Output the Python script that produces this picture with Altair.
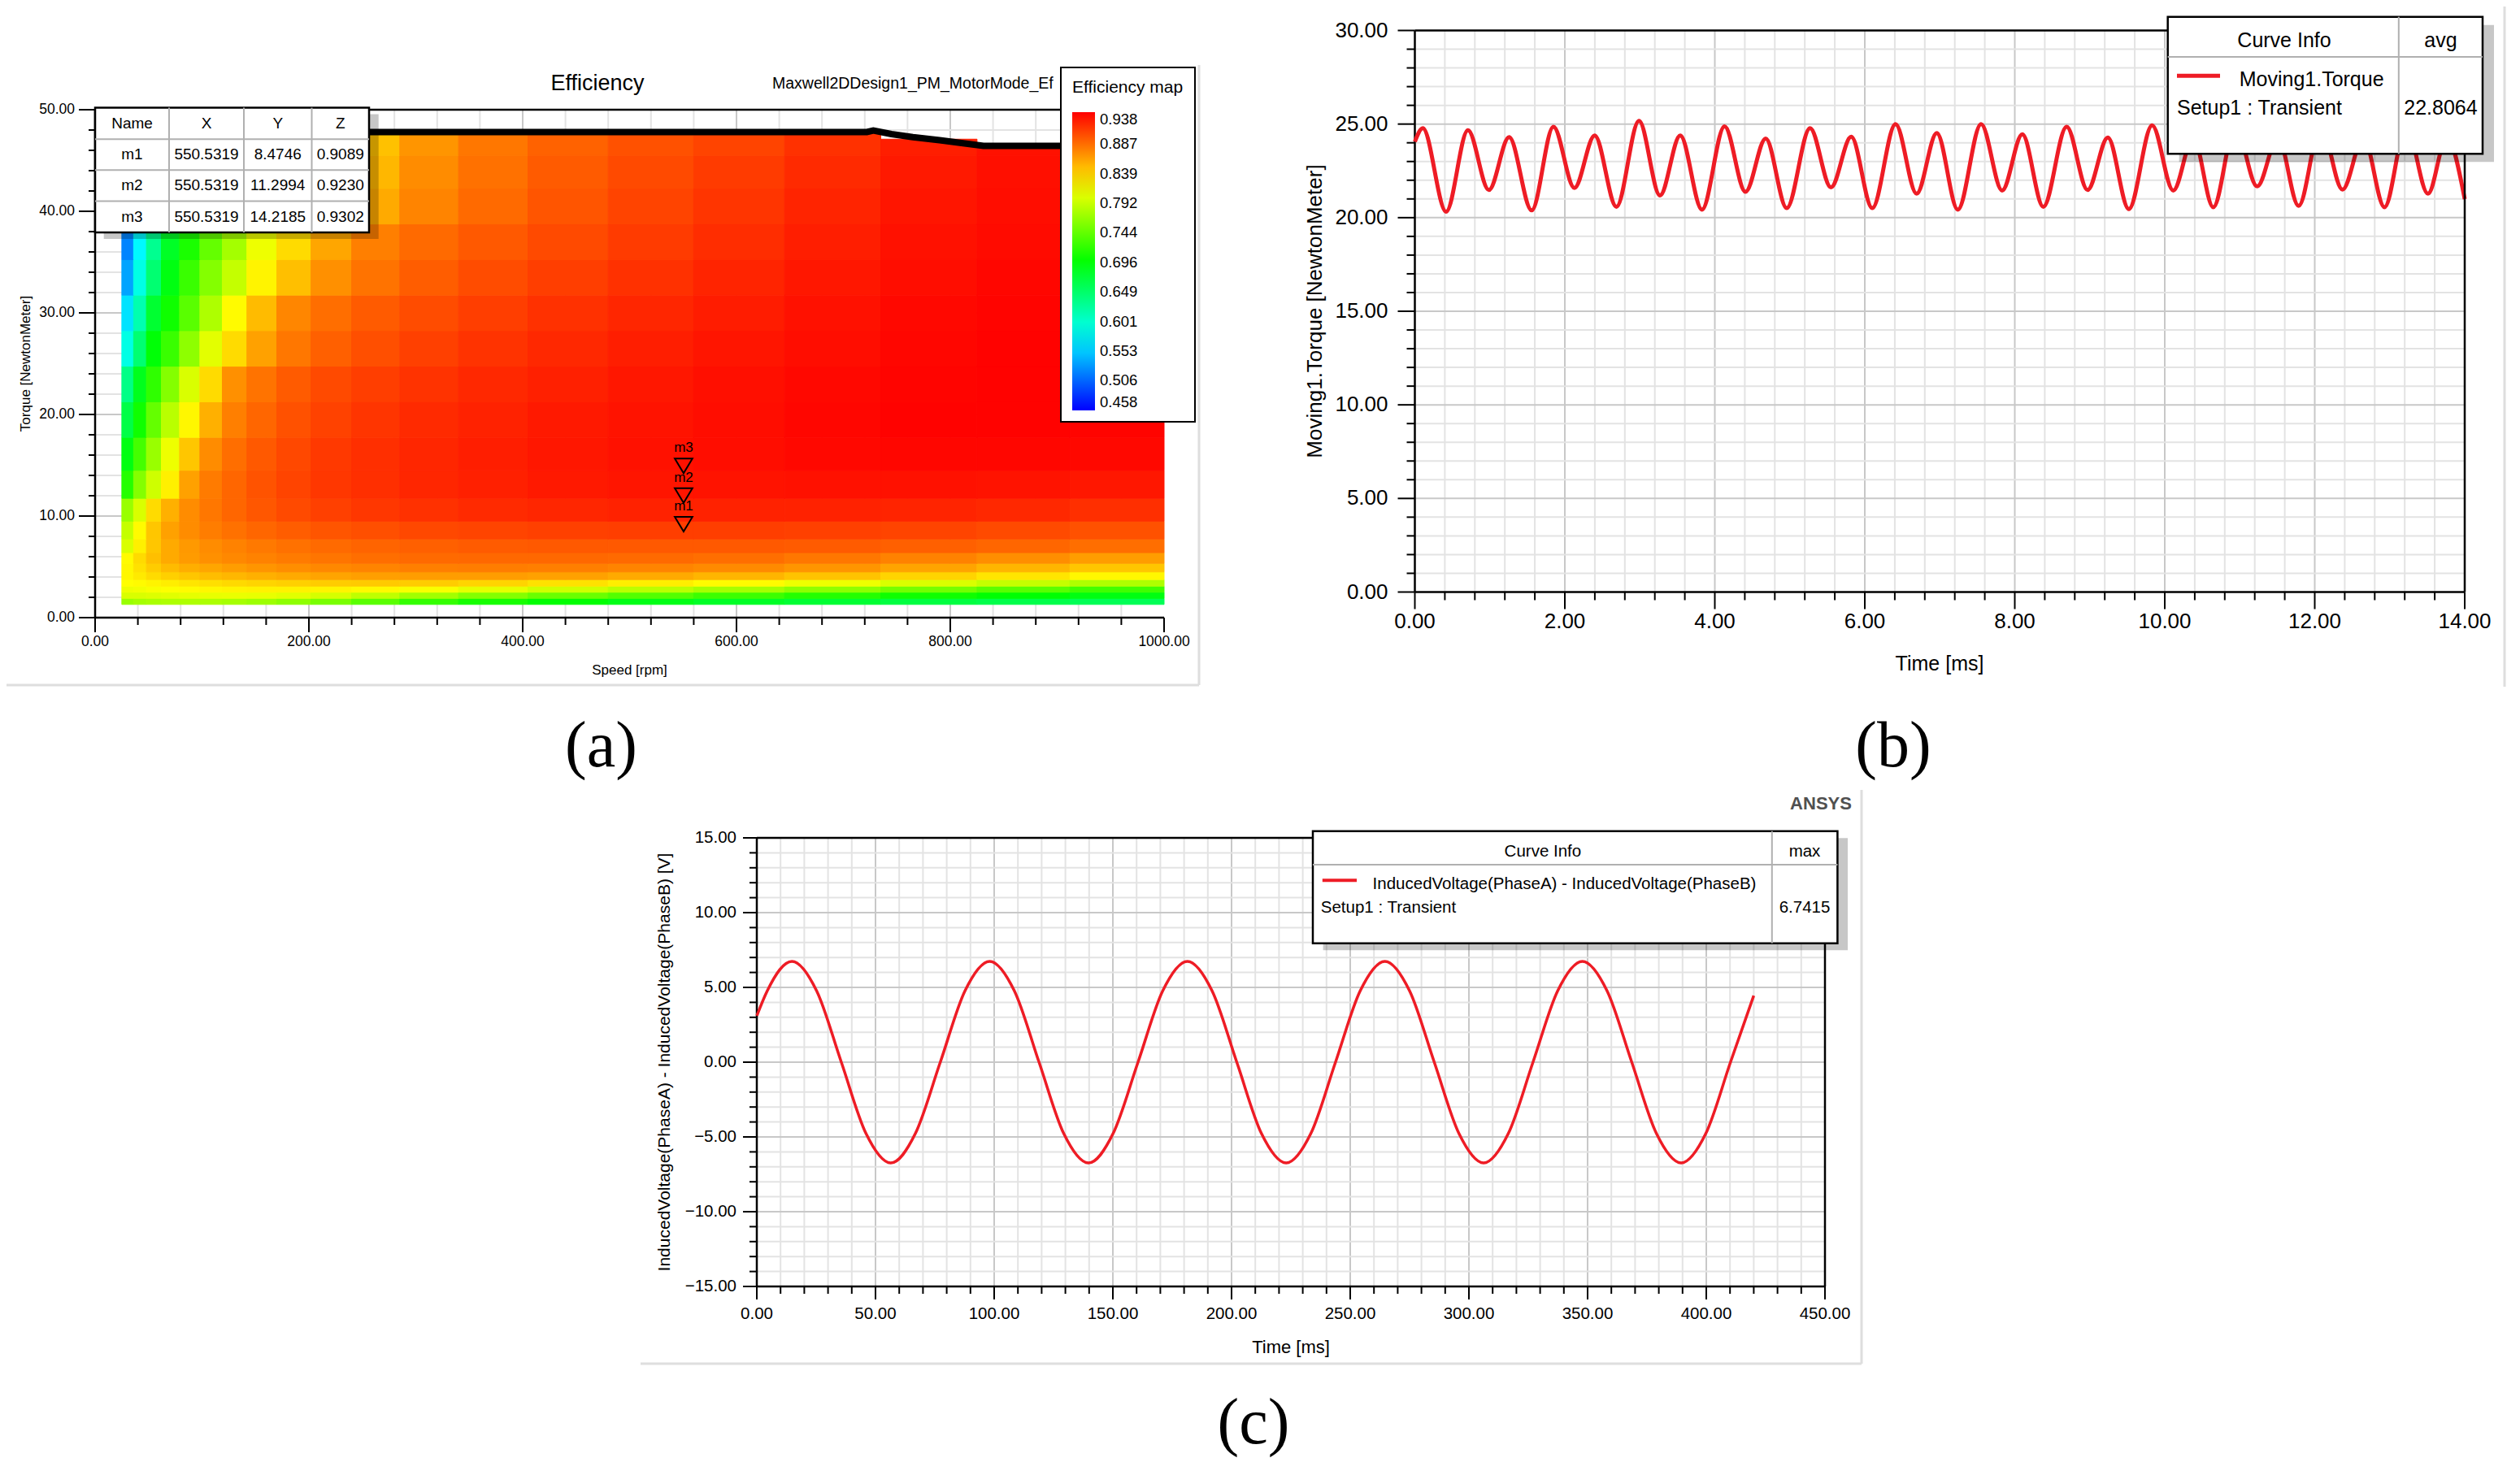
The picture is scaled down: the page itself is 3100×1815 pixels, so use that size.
import altair as alt
import pandas as pd

FONT = "Liberation Sans"
SERIF = "Liberation Serif"
RED = "#ee1c25"
GRID_MAJOR = "#c8c8c8"
GRID_MINOR = "#e3e3e3"
FRAME = "#dedede"
BOX_LINE = "#b0b0b0"

W, H = 3080, 1795

# ===================== (a) efficiency map data =====================
speed_edges = [25, 36, 48, 62, 79, 98, 119, 142, 170, 202, 240, 285, 340, 405, 480,
               560, 645, 735, 825, 912, 1000]
torque_edges = [1.3, 1.9, 2.5, 3.1, 3.75, 4.5, 5.35, 6.4, 7.75, 9.5, 11.75, 14.5, 17.75,
                21.25, 24.75, 28.25, 31.75, 35.25, 38.75, 42.25, 45.5, 47.8]
column_top = [47.8, 47.8, 47.8, 47.8, 47.8, 47.8, 47.8, 47.8, 47.8, 47.8, 47.8, 47.8,
              47.8, 47.8, 47.8, 47.8, 47.8, 47.1, 46.45, 46.45]
# rows from low torque (bottom) to high torque (top), columns follow speed_edges
efficiency_rows = [
    [0.770, 0.775, 0.778, 0.780, 0.780, 0.779, 0.776, 0.772, 0.765, 0.755, 0.740, 0.722, 0.708, 0.697, 0.688, 0.680, 0.674, 0.668, 0.663, 0.658],
    [0.800, 0.800, 0.802, 0.804, 0.806, 0.807, 0.808, 0.807, 0.804, 0.798, 0.788, 0.774, 0.760, 0.748, 0.737, 0.726, 0.715, 0.705, 0.697, 0.690],
    [0.810, 0.812, 0.815, 0.817, 0.820, 0.822, 0.823, 0.824, 0.824, 0.823, 0.821, 0.815, 0.806, 0.796, 0.786, 0.776, 0.765, 0.752, 0.740, 0.728],
    [0.818, 0.820, 0.823, 0.826, 0.830, 0.833, 0.836, 0.838, 0.840, 0.842, 0.843, 0.842, 0.838, 0.832, 0.826, 0.820, 0.810, 0.800, 0.790, 0.780],
    [0.822, 0.828, 0.835, 0.840, 0.845, 0.849, 0.852, 0.855, 0.858, 0.861, 0.863, 0.864, 0.864, 0.862, 0.858, 0.853, 0.846, 0.838, 0.830, 0.822],
    [0.822, 0.832, 0.842, 0.850, 0.856, 0.860, 0.864, 0.868, 0.871, 0.874, 0.876, 0.878, 0.879, 0.878, 0.876, 0.873, 0.868, 0.861, 0.853, 0.845],
    [0.820, 0.835, 0.848, 0.858, 0.865, 0.870, 0.874, 0.877, 0.880, 0.883, 0.886, 0.888, 0.889, 0.889, 0.888, 0.886, 0.882, 0.877, 0.871, 0.864],
    [0.800, 0.825, 0.845, 0.858, 0.866, 0.872, 0.877, 0.881, 0.885, 0.888, 0.891, 0.893, 0.895, 0.896, 0.896, 0.896, 0.895, 0.893, 0.890, 0.886],
    [0.790, 0.820, 0.845, 0.862, 0.872, 0.879, 0.885, 0.890, 0.894, 0.898, 0.901, 0.904, 0.906, 0.908, 0.909, 0.909, 0.908, 0.906, 0.903, 0.900],
    [0.770, 0.800, 0.835, 0.855, 0.872, 0.882, 0.890, 0.897, 0.903, 0.908, 0.912, 0.915, 0.918, 0.920, 0.922, 0.922, 0.922, 0.921, 0.919, 0.916],
    [0.715, 0.760, 0.795, 0.825, 0.862, 0.880, 0.890, 0.899, 0.906, 0.912, 0.916, 0.920, 0.923, 0.926, 0.928, 0.929, 0.930, 0.930, 0.929, 0.927],
    [0.690, 0.730, 0.770, 0.810, 0.845, 0.872, 0.886, 0.896, 0.904, 0.911, 0.916, 0.920, 0.924, 0.927, 0.930, 0.932, 0.934, 0.935, 0.935, 0.934],
    [0.665, 0.705, 0.745, 0.785, 0.822, 0.855, 0.878, 0.890, 0.900, 0.907, 0.913, 0.918, 0.922, 0.926, 0.929, 0.932, 0.935, 0.937, 0.937, 0.936],
    [0.635, 0.685, 0.720, 0.760, 0.800, 0.835, 0.870, 0.884, 0.895, 0.903, 0.909, 0.914, 0.919, 0.923, 0.927, 0.931, 0.934, 0.936, 0.937, 0.937],
    [0.590, 0.645, 0.695, 0.725, 0.765, 0.805, 0.835, 0.862, 0.882, 0.893, 0.901, 0.908, 0.914, 0.919, 0.924, 0.928, 0.932, 0.935, 0.937, 0.937],
    [0.565, 0.615, 0.675, 0.705, 0.740, 0.780, 0.820, 0.850, 0.875, 0.886, 0.895, 0.902, 0.909, 0.915, 0.920, 0.925, 0.930, 0.934, 0.936, 0.937],
    [0.535, 0.590, 0.645, 0.690, 0.725, 0.760, 0.790, 0.823, 0.848, 0.870, 0.884, 0.894, 0.902, 0.909, 0.915, 0.921, 0.927, 0.932, 0.935, 0.936],
    [0.520, 0.575, 0.630, 0.680, 0.710, 0.745, 0.775, 0.810, 0.835, 0.860, 0.878, 0.888, 0.896, 0.903, 0.910, 0.917, 0.924, 0.930, 0.933, 0.935],
    [0.510, 0.565, 0.620, 0.670, 0.710, 0.740, 0.765, 0.790, 0.818, 0.840, 0.858, 0.876, 0.888, 0.898, 0.906, 0.913, 0.921, 0.928, 0.932, 0.934],
    [0.510, 0.560, 0.610, 0.660, 0.700, 0.730, 0.755, 0.780, 0.810, 0.832, 0.852, 0.872, 0.885, 0.895, 0.903, 0.910, 0.918, 0.926, 0.931, 0.933],
    [0.500, 0.550, 0.600, 0.650, 0.690, 0.720, 0.745, 0.770, 0.800, 0.825, 0.847, 0.868, 0.882, 0.892, 0.900, 0.906, 0.915, 0.924, 0.930, 0.932],
]
boundary_speed = [25, 722, 728, 745, 765, 790, 812, 831, 1000]
boundary_torque = [47.8, 47.8, 47.95, 47.6, 47.3, 47.0, 46.7, 46.45, 46.45]
marker_names = ["m1", "m2", "m3"]
marker_speed = [550.5319, 550.5319, 550.5319]
marker_torque = [8.4746, 11.2994, 14.2185]
marker_eff = [0.9089, 0.9230, 0.9302]
eff_legend_values = [0.458, 0.506, 0.553, 0.601, 0.649, 0.696, 0.744, 0.792, 0.839, 0.887, 0.938]
eff_color_domain = [0.458, 0.578, 0.698, 0.818, 0.938]
eff_color_range = ["#0000ff", "#00ffff", "#00ff00", "#ffff00", "#ff0000"]
a_x_ticks = [0, 200, 400, 600, 800, 1000]
a_y_ticks = [0, 10, 20, 30, 40, 50]

# ===================== (b) torque data =====================
torque_time = [0.0, 0.106, 0.417, 0.708, 0.987, 1.257, 1.558, 1.848, 2.128, 2.398, 2.688,
               2.989, 3.269, 3.539, 3.829, 4.130, 4.409, 4.679, 4.959, 5.270, 5.549, 5.819,
               6.100, 6.410, 6.691, 6.960, 7.241, 7.551, 7.831, 8.101, 8.381, 8.692, 8.971,
               9.241, 9.521, 9.832, 10.113, 10.380, 10.647, 10.940, 11.232, 11.510, 11.785,
               12.080, 12.370, 12.650, 12.930, 13.220, 13.510, 13.760, 14.000]
torque_value = [24.06, 24.78, 20.32, 24.67, 21.48, 24.30, 20.39, 24.86, 21.59, 24.39, 20.58,
                25.17, 21.19, 24.39, 20.43, 24.88, 21.38, 24.23, 20.51, 24.78, 21.62, 24.32,
                20.51, 25.00, 21.28, 24.52, 20.43, 25.00, 21.45, 24.45, 20.58, 24.86, 21.48,
                24.28, 20.46, 24.93, 21.45, 24.30, 20.56, 24.90, 21.67, 24.30, 20.63,
                24.90, 21.50, 24.30, 20.56, 24.90, 21.28, 24.30, 20.99]
torque_avg = "22.8064"
b_x_ticks = [0, 2, 4, 6, 8, 10, 12, 14]
b_y_ticks = [0, 5, 10, 15, 20, 25, 30]

# ===================== (c) induced voltage data =====================
voltage_time = [0.0, 4.4, 14.8, 25.2, 35.6, 46.0, 56.4, 66.8, 77.3, 87.7, 98.1, 108.5,
                118.9, 129.3, 139.7, 150.1, 160.6, 171.0, 181.4, 191.8, 202.2, 212.6, 223.0,
                233.4, 243.8, 254.2, 264.6, 275.0, 285.4, 295.8, 306.2, 316.6, 327.0, 337.4,
                347.8, 358.2, 368.6, 379.0, 389.4, 399.8, 410.2, 420.0]
voltage_value = [3.10, 4.77, 6.74, 4.77, 0.00, -4.77, -6.74, -4.77, 0.00, 4.77, 6.74, 4.77,
                 0.00, -4.77, -6.74, -4.77, 0.00, 4.77, 6.74, 4.77, 0.00, -4.77, -6.74,
                 -4.77, 0.00, 4.77, 6.74, 4.77, 0.00, -4.77, -6.74, -4.77, 0.00, 4.77,
                 6.74, 4.77, 0.00, -4.77, -6.74, -4.77, 0.00, 4.45]
voltage_max = "6.7415"
c_x_ticks = [0, 50, 100, 150, 200, 250, 300, 350, 400, 450]
c_y_ticks = [-15, -10, -5, 0, 5, 10, 15]

# minor tick / grid positions
a_x_minor = [v for v in range(40, 1000, 40) if v % 200]
a_y_minor = [v for v in range(2, 50, 2) if v % 10]
b_x_minor = [round(0.4 * i, 1) for i in range(1, 35) if i % 5]
b_y_minor = [v for v in range(1, 30) if v % 5]
c_x_minor = [v for v in range(10, 450, 10) if v % 50]
c_y_minor = [v for v in range(-14, 15) if v % 5]

ONE = pd.DataFrame({"k": [0]})


# ===================== helpers =====================
def vlines(vals, xs, y0, y1, color, width=2):
    return alt.Chart(pd.DataFrame({"v": vals})).mark_rule(color=color, strokeWidth=width).encode(
        x=alt.X("v:Q", scale=xs, axis=None), y=alt.value(y0), y2=alt.value(y1))


def hlines(vals, ys, x0, x1, color, width=2):
    return alt.Chart(pd.DataFrame({"v": vals})).mark_rule(color=color, strokeWidth=width).encode(
        y=alt.Y("v:Q", scale=ys, axis=None), x=alt.value(x0), x2=alt.value(x1))


def axis_x(xs, dom, y, ticks, tl, pad, fs):
    """bottom axis drawn through the panel's x scale"""
    dom_df = pd.DataFrame({"a": [dom[0]], "b": [dom[1]]})
    line = alt.Chart(dom_df).mark_rule(color="black", strokeWidth=2.5).encode(
        x=alt.X("a:Q", scale=xs, axis=None), x2="b", y=alt.value(y))
    lab = alt.Chart(pd.DataFrame({"v": ticks})).mark_text(
        font=FONT, fontSize=fs, baseline="top", align="center", color="black").encode(
        x=alt.X("v:Q", scale=xs, axis=None), y=alt.value(y + tl + pad),
        text=alt.Text("v:Q", format=".2f"))
    return [line, vlines(ticks, xs, y, y + tl, "black", 2), lab]


def axis_y(ys, dom, x, ticks, tl, pad, fs):
    """left axis drawn through the panel's y scale"""
    dom_df = pd.DataFrame({"a": [dom[0]], "b": [dom[1]]})
    line = alt.Chart(dom_df).mark_rule(color="black", strokeWidth=2.5).encode(
        y=alt.Y("a:Q", scale=ys, axis=None), y2="b", x=alt.value(x))
    lab = alt.Chart(pd.DataFrame({"v": ticks})).mark_text(
        font=FONT, fontSize=fs, baseline="middle", align="right", color="black").encode(
        y=alt.Y("v:Q", scale=ys, axis=None), x=alt.value(x - tl - pad),
        text=alt.Text("v:Q", format=".2f"))
    return [line, hlines(ticks, ys, x - tl, x, "black", 2), lab]


def prect(x0, x1, y0, y1, **kw):
    return alt.Chart(ONE).mark_rect(**kw).encode(
        x=alt.value(x0), x2=alt.value(x1), y=alt.value(y0), y2=alt.value(y1))


def plines(segs, color, width):
    df = pd.DataFrame(segs, columns=["x0", "y0", "x1", "y1"])
    return alt.Chart(df).mark_rule(color=color, strokeWidth=width).encode(
        x=alt.X("x0:Q", scale=None, axis=None), x2="x1",
        y=alt.Y("y0:Q", scale=None, axis=None), y2="y1")


def ptext(items, size, align="center", font=FONT, color="black", weight="normal", angle=0):
    df = pd.DataFrame(items, columns=["px", "py", "label"])
    return alt.Chart(df).mark_text(font=font, fontSize=size, align=align, baseline="middle",
                                   color=color, fontWeight=weight, angle=angle).encode(
        x=alt.X("px:Q", scale=None, axis=None), y=alt.Y("py:Q", scale=None, axis=None),
        text="label:N")


# ===================== panel (a) =====================
xa = alt.Scale(domain=[0, 1000], range=[109, 1424], nice=False, zero=False)
ya = alt.Scale(domain=[0, 50], range=[752, 127], nice=False, zero=False)

cells = []
for i, row in enumerate(efficiency_rows):
    for j, val in enumerate(row):
        cells.append({"s0": speed_edges[j], "s1": speed_edges[j + 1],
                      "t0": torque_edges[i], "t1": min(torque_edges[i + 1], column_top[j]),
                      "eff": val})
heat_df = pd.DataFrame(cells)

cscale = alt.Scale(domain=eff_color_domain, range=eff_color_range, interpolate="rgb")
# edge colour of the cells (hides hairline seams); its own scale so legends stay apart
sscale = alt.Scale(domain=[0.458, 0.578, 0.698, 0.818, 0.93800001], range=eff_color_range,
                   interpolate="rgb")
leg_a = alt.Legend(type="gradient", title="Efficiency map", orient="none", legendX=1297,
                   legendY=75, direction="vertical", gradientLength=367, gradientThickness=28,
                   values=eff_legend_values, format=".3f", labelFontSize=18.5,
                   titleFontSize=21, titleFontWeight="normal", labelBaseline="middle",
                   labelOffset=6, labelOverlap=False, padding=14, titlePadding=20,
                   fillColor="white", strokeColor="black", gradientStrokeWidth=0,
                   labelColor="black", titleColor="black", labelFont=FONT, titleFont=FONT)

heat = alt.Chart(heat_df).mark_rect(strokeWidth=1).encode(
    x=alt.X("s0:Q", scale=xa, axis=None), x2="s1",
    y=alt.Y("t0:Q", scale=ya, axis=None), y2="t1",
    color=alt.Color("eff:Q", scale=cscale, legend=leg_a),
    stroke=alt.Stroke("eff:Q", scale=sscale, legend=None),
)

boundary = alt.Chart(pd.DataFrame({"s": boundary_speed, "t": boundary_torque})).mark_line(
    color="black", strokeWidth=8).encode(
    x=alt.X("s:Q", scale=xa, axis=None), y=alt.Y("t:Q", scale=ya, axis=None))

mk_df = pd.DataFrame({"name": marker_names, "s": marker_speed, "t": marker_torque})
markers = alt.Chart(mk_df).mark_point(shape="M-1,-1.66L1,-1.66L0,0Z", filled=False,
                                      color="black", strokeWidth=2, size=470, opacity=1).encode(
    x=alt.X("s:Q", scale=xa, axis=None), y=alt.Y("t:Q", scale=ya, axis=None))
marker_labels = alt.Chart(mk_df).mark_text(font=FONT, fontSize=17, dy=-26, baseline="alphabetic",
                                           color="black").encode(
    x=alt.X("s:Q", scale=xa, axis=None), y=alt.Y("t:Q", scale=ya, axis=None), text="name:N")

panel_a = alt.layer(
    vlines(a_x_minor, xa, 127, 752, GRID_MINOR),
    vlines([200, 400, 600, 800], xa, 127, 752, GRID_MAJOR),
    hlines(a_y_minor, ya, 109, 1424, GRID_MINOR),
    hlines([10, 20, 30, 40], ya, 109, 1424, GRID_MAJOR),
    heat,
    boundary,
    hlines([50], ya, 109, 1424, "black", 2.5),
    vlines(a_x_minor, xa, 752, 761, "black"),
    hlines(a_y_minor, ya, 101, 109, "black"),
    *axis_x(xa, [0, 1000], 752, a_x_ticks, 18, 3, 17.5),
    *axis_y(ya, [0, 50], 109, a_y_ticks, 20, 5, 17.5),
    markers,
    marker_labels,
)

# ===================== panel (b) =====================
xb = alt.Scale(domain=[0, 14], range=[1732.5, 3024], nice=False, zero=False)
yb = alt.Scale(domain=[0, 30], range=[720.5, 29.5], nice=False, zero=False)
df_b = pd.DataFrame({"t": torque_time, "v": torque_value})
curve_b = alt.Chart(df_b).mark_line(color=RED, strokeWidth=5, interpolate="monotone").encode(
    x=alt.X("t:Q", scale=xb, axis=None), y=alt.Y("v:Q", scale=yb, axis=None))
panel_b = alt.layer(
    vlines(b_x_minor, xb, 29.5, 720.5, GRID_MINOR),
    vlines([2, 4, 6, 8, 10, 12], xb, 29.5, 720.5, GRID_MAJOR),
    hlines(b_y_minor, yb, 1732.5, 3024, GRID_MINOR),
    hlines([5, 10, 15, 20, 25], yb, 1732.5, 3024, GRID_MAJOR),
    vlines(b_x_minor, xb, 720.5, 730.5, "black"),
    hlines(b_y_minor, yb, 1722.5, 1732.5, "black"),
    *axis_x(xb, [0, 14], 720.5, b_x_ticks, 21, 2, 26),
    *axis_y(yb, [0, 30], 1732.5, b_y_ticks, 21, 12, 26),
    curve_b,
)

# ===================== panel (c) =====================
xc = alt.Scale(domain=[0, 450], range=[923, 2237], nice=False, zero=False)
yc = alt.Scale(domain=[-15, 15], range=[1575, 1023], nice=False, zero=False)
df_c = pd.DataFrame({"t": voltage_time, "v": voltage_value})
curve_c = alt.Chart(df_c).mark_line(color=RED, strokeWidth=3.5, interpolate="monotone").encode(
    x=alt.X("t:Q", scale=xc, axis=None), y=alt.Y("v:Q", scale=yc, axis=None))
panel_c = alt.layer(
    vlines(c_x_minor, xc, 1023, 1575, GRID_MINOR),
    vlines([50, 100, 150, 200, 250, 300, 350, 400], xc, 1023, 1575, GRID_MAJOR),
    hlines(c_y_minor, yc, 923, 2237, GRID_MINOR),
    hlines([-10, -5, 0, 5, 10], yc, 923, 2237, GRID_MAJOR),
    vlines(c_x_minor, xc, 1575, 1584, "black"),
    hlines(c_y_minor, yc, 914, 923, "black"),
    *axis_x(xc, [0, 450], 1575, c_x_ticks, 16, 8, 20.5),
    *axis_y(yc, [-15, 15], 923, c_y_ticks, 17, 8, 20.5),
    curve_c,
)

# ===================== annotations (pixel layout) =====================
col_b = [109, 200, 292, 375.5, 446]
row_b = [124.6, 163.3, 201.2, 239.5, 278]
cx = [(col_b[i] + col_b[i + 1]) / 2 for i in range(4)]
cy = [(row_b[i] + row_b[i + 1]) / 2 for i in range(4)]
table_items = [(cx[0], cy[0], "Name"), (cx[1], cy[0], "X"), (cx[2], cy[0], "Y"), (cx[3], cy[0], "Z")]
for r in range(3):
    table_items += [(cx[0], cy[r + 1], marker_names[r]),
                    (cx[1], cy[r + 1], f"{marker_speed[r]:.4f}"),
                    (cx[2], cy[r + 1], f"{marker_torque[r]:.4f}"),
                    (cx[3], cy[r + 1], f"{marker_eff[r]:.4f}")]

decor = alt.layer(
    # frames of the screenshots
    plines([(0, 835, 1467, 835), (1467, 72, 1467, 835), (3073, 0, 3073, 837),
            (780, 1670, 2282, 1670), (2282, 964, 2282, 1670)], FRAME, 3),
    # plot borders (top / right) of (b) and (c)
    plines([(1732.5, 29.5, 3024, 29.5), (3024, 29.5, 3024, 720.5),
            (923, 1023, 2237, 1023), (2237, 1023, 2237, 1575)], "black", 2.5),
    # axis titles
    ptext([(766.5, 817, "Speed [rpm]")], 17),
    ptext([(24, 439.5, "Torque [NewtonMeter]")], 17, angle=270),
    ptext([(2378, 808.5, "Time [ms]")], 25),
    ptext([(1609.5, 375, "Moving1.Torque [NewtonMeter]")], 26, angle=270),
    ptext([(1580, 1650, "Time [ms]")], 22),
    ptext([(810, 1299, "InducedVoltage(PhaseA) - InducedVoltage(PhaseB) [V]")], 21, angle=270),
    # (a) marker table
    prect(119.7, 457.7, 132.6, 286, color="black", opacity=0.22),
    prect(109, 446, 124.6, 278, fill="white", stroke="black", strokeWidth=2.5),
    plines([(200, 124.6, 200, 278), (292, 124.6, 292, 278), (375.5, 124.6, 375.5, 278),
            (109, 163.3, 446, 163.3), (109, 201.2, 446, 201.2), (109, 239.5, 446, 239.5)],
           BOX_LINE, 2),
    ptext(table_items, 19),
    ptext([(727, 95, "Efficiency")], 27),
    ptext([(942, 95, "Maxwell2DDesign1_PM_MotorMode_Ef")], 19.5, align="left"),
    # (b) curve info
    prect(2672.7, 3060, 22.7, 191.3, color="black", opacity=0.22),
    prect(2658.7, 3046, 12.7, 181.3, fill="white", stroke="black", strokeWidth=2.5),
    plines([(2942.8, 12.7, 2942.8, 181.3), (2658.7, 62, 3046, 62)], BOX_LINE, 2),
    plines([(2670, 85.3, 2723, 85.3)], RED, 5),
    ptext([(2802, 42, "Curve Info"), (2994.5, 42, "avg"), (2994.5, 125.3, torque_avg)], 25),
    ptext([(2746.7, 90.3, "Moving1.Torque"), (2670, 125.3, "Setup1 : Transient")], 25, align="left"),
    # (c) curve info
    prect(1619.6, 2265, 1023.3, 1161.3, color="black", opacity=0.22),
    prect(1607, 2252.4, 1014.7, 1152.7, fill="white", stroke="black", strokeWidth=2.5),
    plines([(2171.8, 1014.7, 2171.8, 1152.7), (1607, 1056, 2252.4, 1056)], BOX_LINE, 2),
    plines([(1618.8, 1075.3, 1661, 1075.3)], RED, 4),
    ptext([(1889.9, 1040.3, "Curve Info"), (2212, 1040.3, "max"), (2212, 1108.7, voltage_max)], 20.5),
    ptext([(1680.6, 1080.3, "InducedVoltage(PhaseA) - InducedVoltage(PhaseB)"),
           (1616.8, 1108.7, "Setup1 : Transient")], 20.5, align="left"),
    ptext([(2232, 980.5, "ANSYS")], 22, color="#505050", weight="bold"),
    # captions
    ptext([(731.5, 911, "(a)"), (2321, 911, "(b)"), (1534, 1743.6, "(c)")], 80, font=SERIF),
)

chart = alt.layer(panel_a, panel_b, panel_c, decor).resolve_scale(
    x="independent", y="independent", color="independent", stroke="independent"
).properties(
    width=W, height=H, autosize=alt.AutoSizeParams(type="none"), padding=0
).configure(font=FONT).configure_view(stroke="transparent").configure_legend(strokeWidth=2)

chart.save("out.html", embed_options={"renderer": "svg", "actions": False})
